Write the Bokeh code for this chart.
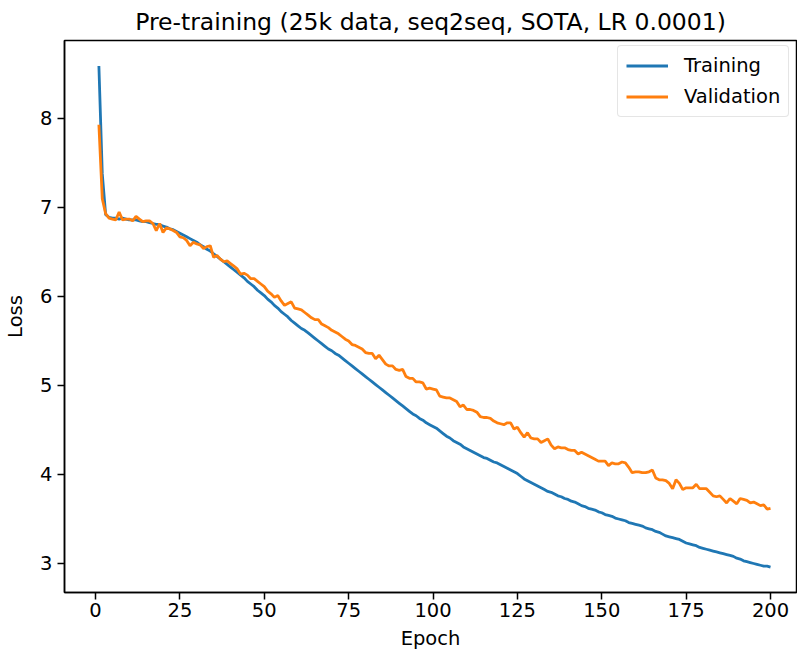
from bokeh.plotting import figure
from bokeh.models import FixedTicker, Range1d, Legend, LegendItem
from bokeh.embed import file_html
from bokeh.resources import INLINE

title_text = "Pre-training (25k data, seq2seq, SOTA, LR 0.0001)"
x_ticks = [0, 25, 50, 75, 100, 125, 150, 175, 200]
y_ticks = [3, 4, 5, 6, 7, 8]

train_loss = [
    8.59, 7.38, 6.92, 6.89, 6.88, 6.88, 6.87, 6.88, 6.87, 6.86,
    6.86, 6.86, 6.85, 6.84, 6.84, 6.83, 6.82, 6.81, 6.81, 6.79,
    6.78, 6.76, 6.75, 6.73, 6.71, 6.69, 6.67, 6.65, 6.63, 6.61,
    6.58, 6.56, 6.53, 6.51, 6.48, 6.45, 6.42, 6.39, 6.36, 6.33,
    6.30, 6.27, 6.24, 6.21, 6.17, 6.14, 6.11, 6.07, 6.04, 6.01,
    5.97, 5.94, 5.90, 5.87, 5.83, 5.80, 5.77, 5.73, 5.70, 5.67,
    5.64, 5.62, 5.59, 5.56, 5.53, 5.50, 5.47, 5.44, 5.41, 5.39,
    5.36, 5.34, 5.31, 5.28, 5.25, 5.22, 5.19, 5.16, 5.13, 5.10,
    5.07, 5.04, 5.01, 4.98, 4.95, 4.92, 4.89, 4.86, 4.83, 4.80,
    4.77, 4.74, 4.71, 4.68, 4.66, 4.63, 4.61, 4.58, 4.56, 4.54,
    4.52, 4.49, 4.46, 4.43, 4.41, 4.38, 4.36, 4.34, 4.31, 4.29,
    4.27, 4.25, 4.23, 4.21, 4.19, 4.18, 4.16, 4.14, 4.13, 4.11,
    4.09, 4.07, 4.05, 4.03, 4.01, 3.98, 3.95, 3.93, 3.91, 3.89,
    3.87, 3.85, 3.83, 3.81, 3.80, 3.78, 3.76, 3.75, 3.73, 3.72,
    3.70, 3.69, 3.67, 3.65, 3.64, 3.62, 3.61, 3.60, 3.58, 3.57,
    3.55, 3.54, 3.53, 3.51, 3.50, 3.49, 3.48, 3.46, 3.45, 3.44,
    3.43, 3.42, 3.40, 3.39, 3.38, 3.36, 3.35, 3.33, 3.31, 3.30,
    3.29, 3.28, 3.27, 3.25, 3.23, 3.22, 3.21, 3.20, 3.18, 3.17,
    3.16, 3.15, 3.14, 3.13, 3.12, 3.11, 3.10, 3.09, 3.08, 3.06,
    3.05, 3.03, 3.02, 3.01, 3.00, 2.99, 2.98, 2.97, 2.97, 2.96,
]

val_loss = [
    7.93, 7.10, 6.93, 6.88, 6.87, 6.86, 6.95, 6.86, 6.87, 6.87,
    6.85, 6.90, 6.87, 6.84, 6.85, 6.85, 6.82, 6.74, 6.82, 6.72,
    6.77, 6.76, 6.74, 6.72, 6.67, 6.66, 6.63, 6.57, 6.61, 6.59,
    6.58, 6.54, 6.56, 6.57, 6.44, 6.46, 6.42, 6.39, 6.40, 6.37,
    6.34, 6.31, 6.25, 6.26, 6.24, 6.20, 6.20, 6.17, 6.14, 6.11,
    6.06, 6.03, 5.99, 6.01, 5.95, 5.90, 5.92, 5.94, 5.87, 5.86,
    5.85, 5.82, 5.79, 5.76, 5.74, 5.74, 5.69, 5.67, 5.65, 5.62,
    5.60, 5.58, 5.55, 5.52, 5.50, 5.46, 5.45, 5.43, 5.41, 5.37,
    5.36, 5.36, 5.30, 5.34, 5.29, 5.24, 5.22, 5.22, 5.18, 5.17,
    5.18, 5.10, 5.08, 5.08, 5.04, 5.04, 5.03, 4.96, 4.97, 4.96,
    4.95, 4.88, 4.87, 4.86, 4.86, 4.84, 4.82, 4.76, 4.78, 4.73,
    4.73, 4.72, 4.70, 4.65, 4.64, 4.64, 4.63, 4.60, 4.58, 4.57,
    4.56, 4.58, 4.58, 4.51, 4.53, 4.47, 4.42, 4.47, 4.41, 4.40,
    4.40, 4.36, 4.38, 4.40, 4.33, 4.29, 4.31, 4.30, 4.30, 4.28,
    4.27, 4.27, 4.23, 4.25, 4.23, 4.21, 4.19, 4.17, 4.15, 4.15,
    4.15, 4.10, 4.13, 4.12, 4.12, 4.14, 4.13, 4.08, 4.02, 4.03,
    4.03, 4.02, 4.02, 4.03, 4.05, 3.96, 3.94, 3.94, 3.93, 3.90,
    3.84, 3.94, 3.90, 3.83, 3.85, 3.85, 3.85, 3.89, 3.84, 3.84,
    3.84, 3.80, 3.76, 3.75, 3.76, 3.72, 3.68, 3.73, 3.70, 3.67,
    3.73, 3.72, 3.71, 3.68, 3.69, 3.67, 3.65, 3.66, 3.61, 3.62,
]

epochs = list(range(1, len(train_loss) + 1))

FONT = "DejaVu Sans"
FS = "19.5px"

p = figure(
    width=797, height=653,
    output_backend="svg", toolbar_location=None,
    x_range=Range1d(-9.19, 207.7), y_range=Range1d(2.674, 8.876),
    min_border_left=64, min_border_right=1, min_border_top=40, min_border_bottom=61,
    title=title_text,
)
p.title.text_font = FONT
p.title.text_font_size = "23.5px"
p.title.text_font_style = "normal"
p.title.align = "center"
p.title.text_color = "black"
p.title.standoff = 10

p.xgrid.visible = False
p.ygrid.visible = False
p.outline_line_color = "black"
p.outline_line_width = 1.5
p.background_fill_color = "white"
p.border_fill_color = "white"

for ax, ticks in ((p.xaxis, x_ticks), (p.yaxis, y_ticks)):
    ax.ticker = FixedTicker(ticks=ticks)
    ax.minor_tick_line_color = None
    ax.major_tick_out = 7
    ax.major_tick_in = 0
    ax.major_tick_line_color = "black"
    ax.major_tick_line_width = 1.5
    ax.axis_line_color = "black"
    ax.axis_line_width = 1.5
    ax.major_label_text_font = FONT
    ax.major_label_text_font_size = FS
    ax.major_label_text_color = "black"
    ax.axis_label_text_font = FONT
    ax.axis_label_text_font_size = FS
    ax.axis_label_text_font_style = "normal"
    ax.axis_label_text_color = "black"

p.xaxis.major_label_standoff = 3
p.yaxis.major_label_standoff = 5
p.xaxis.axis_label = "Epoch"
p.yaxis.axis_label = "Loss"
p.xaxis.axis_label_standoff = 7
p.yaxis.axis_label_standoff = 10

r1 = p.line(epochs, train_loss, line_color="#1f77b4", line_width=2.8)
r2 = p.line(epochs, val_loss, line_color="#ff7f0e", line_width=2.8)

legend = Legend(
    items=[LegendItem(label="Training", renderers=[r1]),
           LegendItem(label="Validation", renderers=[r2])],
    location=(553, 475),
    label_text_font=FONT, label_text_font_size=FS, label_text_color="black",
    glyph_width=42, glyph_height=21, label_height=21,
    spacing=8, padding=8, label_standoff=16,
    border_line_color="#cccccc", border_line_width=1.5,
    border_radius=4, background_fill_alpha=0.8,
)
p.add_layout(legend)

open("out.html", "w").write(file_html(p, INLINE))
